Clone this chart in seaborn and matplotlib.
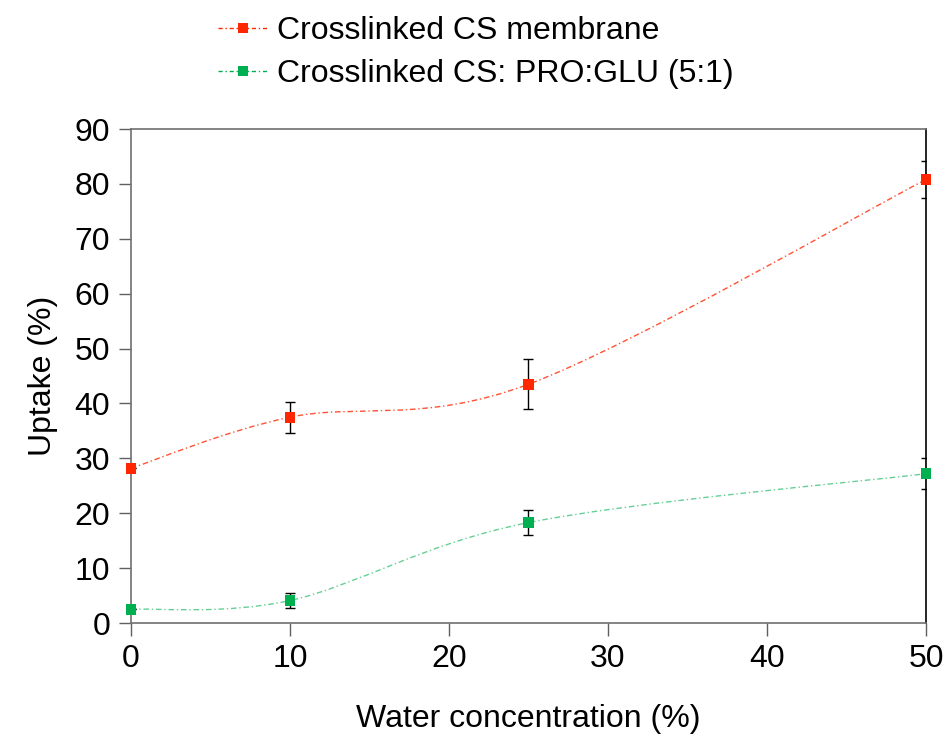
import numpy as np
import pandas as pd
import seaborn as sns
import matplotlib.pyplot as plt
from matplotlib.path import Path
from matplotlib.patches import PathPatch
from matplotlib.lines import Line2D

# Valores
water = [0, 10, 25, 50]
uptake_cs = [28.2, 37.5, 43.5, 80.8]
err_cs = [0.0, 2.8, 4.6, 3.4]
uptake_pro = [2.5, 4.1, 18.3, 27.2]
err_pro = [0.0, 1.3, 2.2, 2.8]

labels = ["Crosslinked CS membrane", "Crosslinked CS: PRO:GLU (5:1)"]
colors = ["#FF2600", "#00B050"]

df = pd.DataFrame({
    "water": water * 2,
    "uptake": uptake_cs + uptake_pro,
    "series": [labels[0]] * 4 + [labels[1]] * 4,
})


def smooth_path(xs, ys):
    """Curva suave estilo Excel (Bezier cúbica, Catmull-Rom)."""
    pts = np.column_stack([xs, ys]).astype(float)
    n = len(pts)
    verts = [pts[0]]
    codes = [Path.MOVETO]
    for i in range(n - 1):
        p0 = pts[max(i - 1, 0)]
        p1 = pts[i]
        p2 = pts[i + 1]
        p3 = pts[min(i + 2, n - 1)]
        c1 = p1 + (p2 - p0) / 6.0
        c2 = p2 - (p3 - p1) / 6.0
        verts += [c1, c2, p2]
        codes += [Path.CURVE4] * 3
    return Path(verts, codes)


sns.set_style("white")
plt.rcParams["font.family"] = ["Liberation Sans", "DejaVu Sans"]
plt.rcParams["text.color"] = "black"
plt.rcParams["axes.labelcolor"] = "black"

fig = plt.figure(figsize=(9.45, 7.38), dpi=100)
ax = fig.add_axes([0.1386, 0.1558, 0.8413, 0.6694])

for ys, es, c, a in [(uptake_cs, err_cs, colors[0], 0.8), (uptake_pro, err_pro, colors[1], 0.6)]:
    patch = PathPatch(smooth_path(water, ys), facecolor="none", edgecolor=c,
                      lw=1.0, linestyle=(0, (4, 2, 1, 2)), alpha=a, zorder=2)
    ax.add_patch(patch)
    ax.errorbar(water, ys, yerr=es, fmt="none", ecolor="black", elinewidth=1.0,
                capsize=3.5, capthick=1.0, zorder=3)

sns.scatterplot(data=df, x="water", y="uptake", hue="series", palette=colors,
                marker="s", s=60, edgecolor="none", legend=False, ax=ax,
                zorder=4, clip_on=False)

ax.set_xlim(0, 50)
ax.set_ylim(0, 90)
ax.set_xticks(range(0, 51, 10))
ax.set_yticks(range(0, 91, 10))
ax.tick_params(axis="both", labelsize=23, direction="out", length=9, width=1,
               color="#606060", labelcolor="black", bottom=True, left=True, pad=6)
ax.set_xlabel("Water concentration (%)", fontsize=23, labelpad=22)
ax.set_ylabel("Uptake (%)", fontsize=23, labelpad=12)

for side in ["left", "bottom", "top"]:
    ax.spines[side].set_color("#707070")
    ax.spines[side].set_linewidth(1.2)
ax.spines["right"].set_color("black")
ax.spines["right"].set_linewidth(1.2)

handles = [Line2D([0], [0], color=c, lw=1.0, linestyle=(0, (3, 2, 1, 2)),
                  marker="s", markersize=7, markeredgewidth=0)
           for c in colors]
fig.legend(handles, labels, loc="upper left", bbox_to_anchor=(0.2, 1.017),
           frameon=False, fontsize=23, handlelength=1.6, handletextpad=0.25,
           labelspacing=0.4)

fig.savefig("out.png", dpi=100)
